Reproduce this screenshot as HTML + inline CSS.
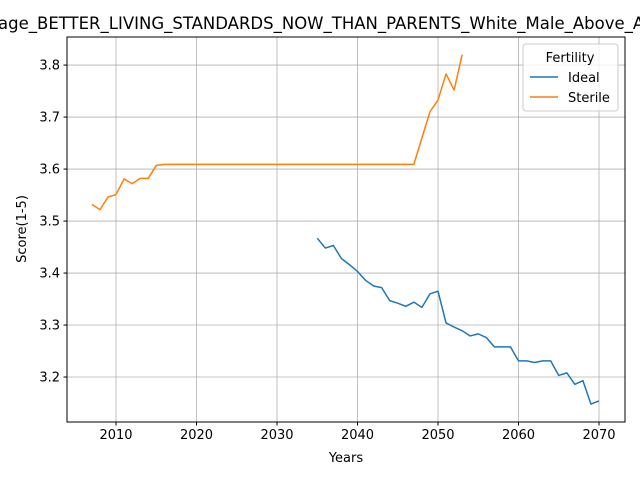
<!DOCTYPE html>
<html><head><meta charset="utf-8"><style>body{margin:0;background:#fff}svg{display:block;font-family:"DejaVu Sans","Liberation Sans",sans-serif}</style></head>
<body>
<svg id="chart" width="640" height="480" viewBox="0 0 640 480">
<rect width="640" height="480" fill="#fff"/>
<text x="-39" y="29" font-size="16.5">Average_BETTER_LIVING_STANDARDS_NOW_THAN_PARENTS_White_Male_Above_Age</text>
<g id="grid"></g>
<g id="series"></g>
<rect x="67" y="37" width="558" height="385" fill="none" stroke="#000" stroke-width="1"/>
<g id="axes"></g>
<text x="346" y="462" font-size="13" text-anchor="middle">Years</text>
<text transform="translate(26,229) rotate(-90)" font-size="13" text-anchor="middle">Score(1-5)</text>
<g>
<rect x="523" y="44" width="95" height="67" rx="3" fill="#fff" fill-opacity="0.8" stroke="#ccc"/>
<text x="570" y="62" font-size="13" text-anchor="middle">Fertility</text>
<line x1="530" y1="77" x2="558" y2="77" stroke="#1f77b4" stroke-width="1.5"/>
<text x="568" y="82" font-size="13">Ideal</text>
<line x1="530" y1="97" x2="558" y2="97" stroke="#ff7f0e" stroke-width="1.5"/>
<text x="568" y="102" font-size="13">Sterile</text>
</g>
</svg>
<script>
const xTicks=[2010,2020,2030,2040,2050,2060,2070];
const yTicks=[3.2,3.3,3.4,3.5,3.6,3.7,3.8];
const idealYears=[2035,2036,2037,2038,2039,2040,2041,2042,2043,2044,2045,2046,2047,2048,2049,2050,2051,2052,2053,2054,2055,2056,2057,2058,2059,2060,2061,2062,2063,2064,2065,2066,2067,2068,2069,2070];
const idealValues=[3.467,3.448,3.453,3.428,3.416,3.403,3.386,3.375,3.372,3.347,3.342,3.336,3.344,3.334,3.360,3.365,3.304,3.296,3.289,3.279,3.283,3.276,3.258,3.258,3.258,3.231,3.231,3.228,3.231,3.231,3.203,3.208,3.186,3.193,3.148,3.154];
const sterileYears=[2007,2008,2009,2010,2011,2012,2013,2014,2015,2016,2017,2018,2019,2020,2021,2022,2023,2024,2025,2026,2027,2028,2029,2030,2031,2032,2033,2034,2035,2036,2037,2038,2039,2040,2041,2042,2043,2044,2045,2046,2047,2048,2049,2050,2051,2052,2053];
const sterileValues=[3.532,3.522,3.546,3.551,3.581,3.572,3.582,3.582,3.607,3.609,3.609,3.609,3.609,3.609,3.609,3.609,3.609,3.609,3.609,3.609,3.609,3.609,3.609,3.609,3.609,3.609,3.609,3.609,3.609,3.609,3.609,3.609,3.609,3.609,3.609,3.609,3.609,3.609,3.609,3.609,3.609,3.660,3.710,3.733,3.783,3.752,3.820];
const NS='http://www.w3.org/2000/svg';
const X0=67,X1=625,Y0=37,Y1=422;
const xMin=2003.91,xMax=2073.23,yMin=3.1135,yMax=3.854;
function xs(v){return X0+(v-xMin)/(xMax-xMin)*(X1-X0);}
function ys(v){return Y1-(v-yMin)/(yMax-yMin)*(Y1-Y0);}
function mk(tag,attrs,parent){const e=document.createElementNS(NS,tag);for(const k in attrs)e.setAttribute(k,attrs[k]);parent.appendChild(e);return e;}
const grid=document.getElementById('grid'),axes=document.getElementById('axes'),series=document.getElementById('series');
xTicks.forEach(t=>{const x=xs(t);
 const g=mk('line',{x1:x,x2:x,y1:Y0,y2:Y1,stroke:'#b0b0b0','stroke-width':0.8},grid);
 
 
 mk('line',{x1:x,x2:x,y1:Y1,y2:Y1+3.5,stroke:'#000'},axes);
 const l=mk('text',{x:x,y:Y1+17,'font-size':13,'text-anchor':'middle'},axes);l.textContent=t;
 
 
});
yTicks.forEach(t=>{const y=ys(t);
 const g=mk('line',{x1:X0,x2:X1,y1:y,y2:y,stroke:'#b0b0b0','stroke-width':0.8},grid);
 
 
 mk('line',{x1:X0-3.5,x2:X0,y1:y,y2:y,stroke:'#000'},axes);
 const l=mk('text',{x:X0-7,y:y+4.5,'font-size':13,'text-anchor':'end'},axes);l.textContent=t.toFixed(1);
 
 
});
function line(xa,va,color,name){
 const p=mk('polyline',{points:xa.map((x,i)=>xs(x)+','+ys(va[i])).join(' '),fill:'none',stroke:color,'stroke-width':1.5,'stroke-linejoin':'round'},series);
 
 
}
line(idealYears,idealValues,'#1f77b4','ideal-line');
line(sterileYears,sterileValues,'#ff7f0e','sterile-line');
</script>
</body></html>
